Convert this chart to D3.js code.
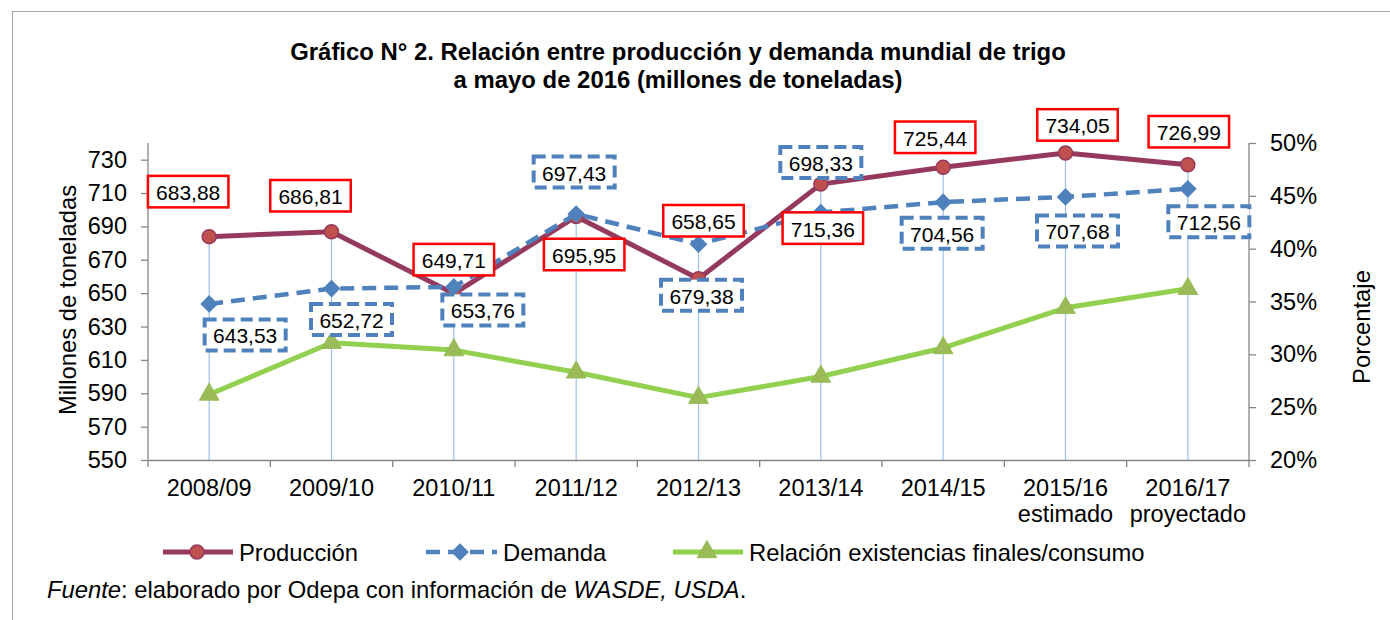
<!DOCTYPE html>
<html>
<head>
<meta charset="utf-8">
<script src="https://cdn.jsdelivr.net/npm/d3@7"></script>
<style>
  html, body { margin: 0; padding: 0; background: #fff; }
  svg { display: block; font-family: "Liberation Sans", Arial, sans-serif; }
</style>
</head>
<body>
<svg id="chart" width="1390" height="620"></svg>
<script>
// ---------------- DATA ----------------
const categories = ["2008/09", "2009/10", "2010/11", "2011/12", "2012/13", "2013/14", "2014/15", "2015/16", "2016/17"];
const categorySubLabels = ["", "", "", "", "", "", "", "estimado", "proyectado"];
const produccion = [683.88, 686.81, 649.71, 695.95, 658.65, 715.36, 725.44, 734.05, 726.99];
const demanda = [643.53, 652.72, 653.76, 697.43, 679.38, 698.33, 704.56, 707.68, 712.56];
const relacion = [26.2, 31.1, 30.4, 28.3, 25.9, 27.9, 30.6, 34.4, 36.2];
const leftTicks = [550, 570, 590, 610, 630, 650, 670, 690, 710, 730];
const rightTicks = [20, 25, 30, 35, 40, 45, 50];
const seriesNames = ["Producción", "Demanda", "Relación existencias finales/consumo"];
const titleLines = ["Gráfico N° 2. Relación entre producción y demanda mundial de trigo",
                    "a mayo de 2016 (millones de toneladas)"];

// ---------------- LAYOUT (label offsets in px, not data) ----------------
const prodLabelOffset = [[-21,-45],[-21,-36],[0,-34],[8,38],[5,-58],[2,44],[-8,-30],[12,-28],[1,-33]];
const demLabelOffset  = [[36,31],[20,31],[29,23],[-2,-42],[3,51],[0,-50],[-1,31],[12,34],[21,33]];

const FONT = '"Liberation Sans", Arial, sans-serif';
const C_PROD = "#953A5E", C_PROD_FILL = "#C0504D";
const C_DEM = "#4F81BD";
const C_REL = "#92D050", C_REL_FILL = "#9BBB59";
const AXIS = "#868686";
const TXT = 23.8;   // main text size
const TICK = 23.5;

const svg = d3.select("#chart");

// outer border
svg.append("rect").attr("x", 12.5).attr("y", 11.5).attr("width", 1400).attr("height", 700)
  .attr("fill", "none").attr("stroke", "#a6a6a6").attr("stroke-width", 1);

// title
svg.append("g").selectAll("text").data(titleLines).join("text")
  .attr("x", 678).attr("y", (d, i) => 60 + i * 28)
  .attr("text-anchor", "middle").attr("font-weight", "bold")
  .attr("font-size", 23.9).attr("fill", "#000").text(d => d);

// scales
const plot = { left: 148, right: 1249, top: 143, bottom: 460 };
const x = d3.scaleBand().domain(categories).range([plot.left, plot.right]).padding(0);
const cx = c => x(c) + x.bandwidth() / 2;
const y = d3.scaleLinear().domain([550, 740]).range([plot.bottom, plot.top]);
const yR = d3.scaleLinear().domain([20, 50]).range([plot.bottom, plot.top]);

// drop lines
svg.append("g").selectAll("line").data(categories).join("line")
  .attr("x1", d => cx(d)).attr("x2", d => cx(d))
  .attr("y1", (d, i) => Math.min(y(produccion[i]), y(demanda[i]), yR(relacion[i])))
  .attr("y2", plot.bottom)
  .attr("stroke", "#9dc0e8").attr("stroke-width", 1.2);

// axes
const leftAxis = svg.append("g").attr("transform", `translate(${plot.left},0)`)
  .call(d3.axisLeft(y).tickValues(leftTicks).tickSize(7).tickSizeOuter(0).tickPadding(14));
const rightAxis = svg.append("g").attr("transform", `translate(${plot.right},0)`)
  .call(d3.axisRight(yR).tickValues(rightTicks).tickFormat(d => d + "%").tickSize(7).tickSizeOuter(0).tickPadding(14));
const bottomAxis = svg.append("g").attr("transform", `translate(0,${plot.bottom})`)
  .call(d3.axisBottom(x).tickSize(0).tickSizeOuter(0).tickPadding(0));

[leftAxis, rightAxis, bottomAxis].forEach(g => {
  g.select(".domain").attr("stroke", AXIS).attr("stroke-width", 1.3);
  g.selectAll(".tick line").attr("stroke", AXIS).attr("stroke-width", 1.3);
  g.selectAll(".tick text").attr("font-family", FONT).attr("font-size", TICK).attr("fill", "#000");
});
leftAxis.select(".domain").attr("d", `M0,${plot.top}V${plot.bottom}`);
rightAxis.select(".domain").attr("d", `M0,${plot.top}V${plot.bottom}`);

// bottom category labels (two lines)
bottomAxis.selectAll(".tick text").each(function(d) {
  const t = d3.select(this).text(null).attr("y", 0).attr("dy", null);
  t.append("tspan").attr("x", 0).attr("y", 36).text(d);
  const sub = categorySubLabels[categories.indexOf(d)];
  if (sub) t.append("tspan").attr("x", 0).attr("y", 62).text(sub);
});
// boundary ticks on x axis
const boundaries = categories.map(c => x(c)).concat([plot.right]);
bottomAxis.append("g").selectAll("line").data(boundaries).join("line")
  .attr("x1", d => d).attr("x2", d => d).attr("y1", 0).attr("y2", 7)
  .attr("stroke", AXIS).attr("stroke-width", 1.3);

// axis titles
svg.append("text").attr("transform", `translate(67,300) rotate(-90)`)
  .attr("text-anchor", "middle").attr("dominant-baseline", "central")
  .attr("font-size", TXT).text("Millones de toneladas");
svg.append("text").attr("transform", `translate(1361,327) rotate(-90)`)
  .attr("text-anchor", "middle").attr("dominant-baseline", "central")
  .attr("font-size", TXT).text("Porcentaje");

// lines
const lineL = d3.line().x((d, i) => cx(categories[i])).y(d => y(d));
const lineR = d3.line().x((d, i) => cx(categories[i])).y(d => yR(d));

// green series
svg.append("path").datum(relacion).attr("d", lineR)
  .attr("fill", "none").attr("stroke", C_REL).attr("stroke-width", 5).attr("stroke-linejoin", "round");
const triSym = d3.symbol().type(d3.symbolTriangle).size(170);
svg.append("g").selectAll("path").data(relacion).join("path")
  .attr("transform", (d, i) => `translate(${cx(categories[i])},${yR(d)})`)
  .attr("d", triSym).attr("fill", C_REL_FILL).attr("stroke", "#8db84a").attr("stroke-width", 0.8);

// production
svg.append("path").datum(produccion).attr("d", lineL)
  .attr("fill", "none").attr("stroke", C_PROD).attr("stroke-width", 5).attr("stroke-linejoin", "round");
svg.append("g").selectAll("circle").data(produccion).join("circle")
  .attr("cx", (d, i) => cx(categories[i])).attr("cy", d => y(d)).attr("r", 7)
  .attr("fill", C_PROD_FILL).attr("stroke", C_PROD).attr("stroke-width", 1.5);

// demand
svg.append("path").datum(demanda).attr("d", lineL)
  .attr("fill", "none").attr("stroke", C_DEM).attr("stroke-width", 4.5)
  .attr("stroke-dasharray", "14,8");
const diaSym = d3.symbol().type(d3.symbolDiamond2).size(200);
svg.append("g").selectAll("path").data(demanda).join("path")
  .attr("transform", (d, i) => `translate(${cx(categories[i])},${y(d)})`)
  .attr("d", diaSym).attr("fill", C_DEM);

// data labels
const fmt = v => d3.format(".2f")(v).replace(".", ",");
function drawLabels(values, offsets, cls) {
  const g = svg.append("g").selectAll("g").data(values).join("g")
    .attr("transform", (d, i) => `translate(${cx(categories[i]) + offsets[i][0]},${y(d) + offsets[i][1]})`);
  if (cls === "prod") {
    g.append("rect").attr("x", -40.25).attr("y", -15.75).attr("width", 80.5).attr("height", 31.5)
      .attr("fill", "#fff").attr("stroke", "#FF0000").attr("stroke-width", 2.5);
  } else {
    g.append("rect").attr("x", -40.5).attr("y", -15.5).attr("width", 81).attr("height", 31)
      .attr("fill", "#fff").attr("stroke", C_DEM).attr("stroke-width", 4).attr("stroke-dasharray", "12,6");
  }
  g.append("text").attr("text-anchor", "middle").attr("dominant-baseline", "central")
    .attr("y", 1).attr("font-size", 21).attr("fill", "#000").text(d => fmt(d));
}
drawLabels(produccion, prodLabelOffset, "prod");
drawLabels(demanda, demLabelOffset, "dem");

// legend
const legY = 552;
const leg = svg.append("g");
leg.append("line").attr("x1", 163).attr("x2", 233).attr("y1", legY).attr("y2", legY)
  .attr("stroke", C_PROD).attr("stroke-width", 5);
leg.append("circle").attr("cx", 197).attr("cy", legY).attr("r", 7)
  .attr("fill", C_PROD_FILL).attr("stroke", C_PROD).attr("stroke-width", 1.5);
leg.append("text").attr("x", 239).attr("y", legY).attr("dominant-baseline", "central")
  .attr("font-size", TXT).text(seriesNames[0]);
leg.append("line").attr("x1", 426).attr("x2", 497).attr("y1", legY).attr("y2", legY)
  .attr("stroke", C_DEM).attr("stroke-width", 4.5).attr("stroke-dasharray", "14,8");
leg.append("path").attr("transform", `translate(460,${legY})`).attr("d", diaSym).attr("fill", C_DEM);
leg.append("text").attr("x", 503).attr("y", legY).attr("dominant-baseline", "central")
  .attr("font-size", TXT).text(seriesNames[1]);
leg.append("line").attr("x1", 673).attr("x2", 743).attr("y1", legY).attr("y2", legY)
  .attr("stroke", C_REL).attr("stroke-width", 5);
leg.append("path").attr("transform", `translate(707,${legY})`).attr("d", triSym)
  .attr("fill", C_REL_FILL).attr("stroke", "#8db84a").attr("stroke-width", 0.8);
leg.append("text").attr("x", 749).attr("y", legY).attr("dominant-baseline", "central")
  .attr("font-size", TXT).text(seriesNames[2]);

// source
const src = svg.append("text").attr("x", 47).attr("y", 598).attr("font-size", TXT);
src.append("tspan").attr("font-style", "italic").text("Fuente");
src.append("tspan").text(": elaborado por Odepa con información de ");
src.append("tspan").attr("font-style", "italic").text("WASDE, USDA");
src.append("tspan").text(".");
</script>
</body>
</html>
